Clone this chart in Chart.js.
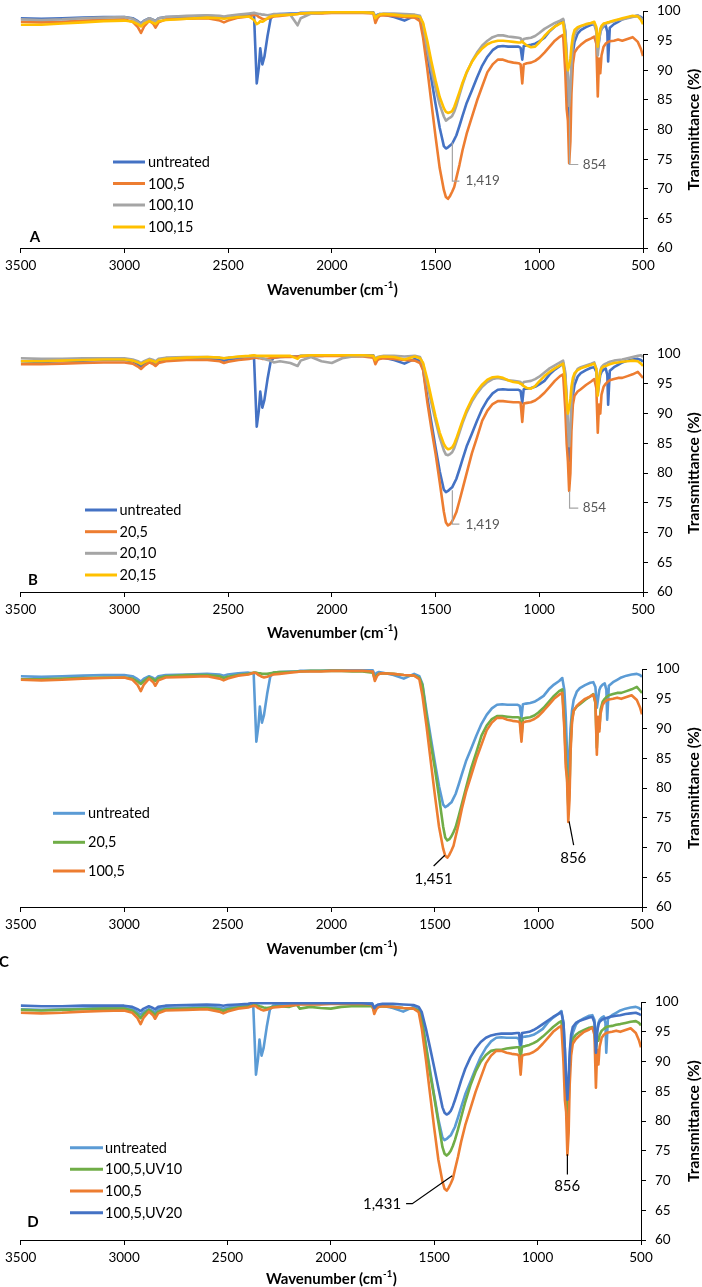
<!DOCTYPE html>
<html><head><meta charset="utf-8">
<script src="https://cdn.jsdelivr.net/npm/chart.js@4.4.1/dist/chart.umd.min.js"></script>
<style>
html,body{margin:0;padding:0;background:#fff;width:702px;height:1287px;overflow:hidden;position:relative}
canvas{position:absolute;left:0}
</style></head><body>
<canvas id="cA"></canvas><canvas id="cB"></canvas><canvas id="cC"></canvas><canvas id="cD"></canvas>
<script>
// ---- data (wavenumber grid, cm-1) ----
const WAVENUMBERS = [
  3500,3400,3300,3200,3100,3000,2960,2935,2920,2905,2880,2860,2850,2835,2800,
  2700,2600,2540,2520,2500,2450,2400,2375,2362,2352,2345,2335,2325,2310,2295,2280,
  2250,2200,2165,2150,2100,2050,2000,1950,1900,1850,1800,1790,1780,1770,1750,1700,1650,1600,1575,
  1560,1540,1520,1500,1480,1460,1450,1440,1430,1420,1410,1400,1385,1370,1350,1325,1300,1275,1250,1225,1200,
  1175,1150,1125,1100,1090,1082,1075,1060,1040,1020,1000,975,950,925,900,
  885,875,868,862,856,850,845,838,830,815,800,775,750,
  735,725,718,712,706,700,690,680,672,668,660,640,620,600,575,550,525,510,500
];
const UNTREATED = [
  98.8,98.7,98.8,98.9,99.0,99.0,98.8,98.3,97.9,98.4,98.8,98.5,98.3,98.8,99.0,
  99.1,99.2,99.1,98.9,99.1,99.3,99.4,99.3,87.8,90.5,93.7,91.0,92.3,95.8,98.7,99.4,
  99.5,99.6,99.6,99.7,99.7,99.7,99.8,99.8,99.8,99.8,99.8,99.0,99.4,99.5,99.4,99.0,98.4,99.2,98.8,
  97.5,92.8,88.5,84.3,80.3,77.2,76.8,77.0,77.3,77.6,78.3,79.0,80.6,82.3,84.5,86.6,88.8,90.8,92.3,93.4,94.0,
  94.1,94.0,94.0,94.0,93.8,91.8,94.1,94.2,94.3,94.5,94.9,95.5,96.6,97.4,98.0,
  98.5,96.5,92.0,86.0,82.0,86.0,90.0,93.0,94.8,96.2,96.8,97.3,97.7,
  97.8,97.0,93.5,95.0,96.5,97.0,97.4,97.6,96.5,91.5,97.2,97.8,98.2,98.6,98.9,99.1,99.2,99.0,98.7
];
const S100_5 = [
  98.2,98.1,98.2,98.4,98.5,98.6,98.2,97.3,96.3,97.4,98.4,97.8,97.2,98.1,98.6,
  98.7,98.8,98.4,98.1,98.4,98.9,99.1,99.4,99.3,99.0,98.9,98.7,98.6,98.7,98.9,99.1,
  99.2,99.4,99.5,99.6,99.6,99.6,99.7,99.7,99.7,99.7,99.6,98.0,98.8,99.2,99.3,99.2,99.0,98.9,98.3,
  95.5,90.3,84.5,78.8,73.5,69.8,68.6,68.3,68.8,69.5,70.3,71.8,74.0,76.5,79.3,82.1,84.9,87.3,89.7,91.0,91.8,
  91.8,91.5,91.3,91.2,91.0,87.8,91.0,91.2,91.3,91.6,92.1,93.0,94.0,95.0,95.7,
  96.0,90.0,83.5,81.5,74.3,78.0,86.0,91.0,93.0,93.8,94.3,95.0,95.4,
  95.7,94.5,85.6,92.0,89.5,92.5,94.0,94.5,94.7,94.8,94.9,95.0,95.2,95.0,95.3,95.6,94.8,93.6,92.4
];
const S100_10 = [
  98.6,98.5,98.6,98.8,98.9,99.0,98.7,98.2,97.7,98.3,98.8,98.5,98.2,98.8,99.0,
  99.2,99.3,99.2,99.1,99.2,99.4,99.6,99.7,99.6,99.5,99.5,99.4,99.4,99.3,99.4,99.5,
  99.5,99.4,97.6,98.8,99.6,99.7,99.8,99.8,99.8,99.8,99.7,98.9,99.3,99.5,99.6,99.6,99.5,99.4,99.2,
  97.8,93.5,90.0,87.0,84.2,82.2,81.5,81.8,82.0,82.3,83.0,84.0,85.8,87.6,89.6,91.5,93.0,94.2,95.0,95.6,95.9,
  95.9,95.7,95.6,95.5,95.4,94.8,95.3,95.4,95.5,95.8,96.3,97.0,97.5,98.0,98.4,
  98.7,96.8,93.0,89.0,84.0,87.0,91.0,94.5,96.0,97.0,97.4,97.7,98.0,
  97.8,96.5,92.5,95.0,96.3,97.0,97.6,97.8,98.0,98.0,98.1,98.3,98.5,98.6,98.8,99.0,99.3,98.8,98.5
];
const S100_15 = [
  97.7,97.7,97.9,98.1,98.3,98.4,98.2,97.8,97.4,97.9,98.3,98.0,97.8,98.3,98.5,
  98.7,98.9,98.8,98.7,98.8,99.0,99.1,98.5,97.8,98.0,98.3,98.2,98.4,98.8,99.1,99.2,
  99.3,99.4,99.5,99.6,99.7,99.7,99.8,99.8,99.8,99.8,99.7,98.8,99.2,99.4,99.5,99.4,99.2,99.2,99.0,
  98.0,95.0,91.5,88.3,85.5,83.6,83.0,82.8,82.9,83.1,83.8,84.8,86.3,87.9,89.7,91.4,92.7,93.7,94.4,94.8,95.0,
  95.0,94.9,94.8,94.7,94.7,94.9,94.6,94.2,93.9,94.0,94.7,95.8,96.7,97.4,97.9,
  98.1,95.0,91.5,90.0,90.8,92.0,94.0,95.8,96.8,97.3,97.5,97.8,98.0,
  98.2,97.3,94.0,95.8,97.0,97.5,97.9,98.0,98.1,98.1,98.2,98.4,98.6,98.8,99.0,99.2,99.1,98.5,97.8
];
const S20_5 = [
  98.3,98.3,98.4,98.5,98.6,98.6,98.4,97.9,97.5,98.0,98.6,98.3,98.0,98.5,98.8,
  99.0,99.0,98.8,98.5,98.7,99.0,99.2,99.4,99.4,99.3,99.3,99.2,99.2,99.2,99.3,99.4,
  99.5,99.5,99.6,99.6,99.7,99.7,99.7,99.7,99.6,99.6,99.4,98.3,99.0,99.2,99.3,99.2,99.0,98.9,98.5,
  97.3,92.0,87.5,83.3,78.5,73.5,71.7,71.2,71.4,71.9,72.6,73.4,75.3,77.3,80.0,83.3,86.0,88.8,90.5,91.6,92.1,
  92.1,92.0,91.9,91.9,91.8,88.6,91.7,91.8,91.9,92.2,92.7,93.5,94.5,95.5,96.3,
  96.6,91.0,85.0,82.0,77.0,80.0,87.0,91.5,93.0,93.7,94.1,94.8,95.4,
  95.8,94.3,86.8,91.5,90.0,93.2,94.5,95.0,95.3,95.4,95.6,95.8,96.0,96.0,96.3,96.6,97.0,96.4,96.0
];
const S20_10 = [
  99.3,99.2,99.2,99.3,99.3,99.3,99.1,98.8,98.5,98.8,99.2,99.0,98.8,99.2,99.4,
  99.5,99.5,99.4,99.3,99.4,99.5,99.6,99.7,99.6,99.5,99.4,99.3,99.2,99.0,98.9,98.6,
  98.8,98.5,98.0,98.9,99.5,98.8,98.5,99.3,99.6,99.7,99.7,99.2,99.5,99.6,99.7,99.7,99.6,99.7,99.5,
  98.3,95.0,91.8,88.8,86.0,83.8,83.1,83.0,83.2,83.5,84.2,85.2,86.8,88.4,90.2,92.0,93.4,94.5,95.3,95.8,96.0,
  95.8,95.6,95.5,95.4,95.3,94.8,95.3,95.4,95.5,95.8,96.2,96.9,97.6,98.1,98.6,
  98.9,97.0,93.0,88.0,84.5,88.0,92.0,95.0,96.5,97.5,97.8,98.1,98.4,
  98.6,97.5,93.5,96.0,97.2,97.8,98.2,98.4,98.5,98.6,98.7,98.9,99.0,99.1,99.3,99.5,99.7,99.8,99.5
];
const S20_15 = [
  98.8,98.8,98.9,99.0,99.1,99.1,98.9,98.6,98.3,98.6,99.0,98.8,98.6,99.0,99.2,
  99.4,99.5,99.4,99.3,99.4,99.6,99.7,99.8,99.7,99.7,99.7,99.7,99.7,99.7,99.7,99.7,
  99.7,99.7,99.2,99.7,99.8,99.8,99.8,99.8,99.8,99.8,99.7,99.0,99.4,99.5,99.6,99.5,99.1,99.6,99.3,
  98.5,95.8,92.6,89.5,86.8,84.9,84.3,84.0,84.1,84.3,84.9,85.8,87.3,88.8,90.6,92.4,93.8,94.9,95.7,96.1,96.2,
  96.0,95.6,95.3,95.2,95.0,94.9,94.6,94.3,94.2,94.6,95.4,96.3,97.0,97.6,98.1,
  98.4,95.5,92.0,90.0,91.0,92.5,94.5,96.0,96.8,97.3,97.6,97.9,98.2,
  98.4,97.5,93.0,95.5,97.0,97.6,97.9,98.0,98.1,98.2,98.3,98.5,98.6,98.7,98.8,98.9,98.8,98.4,98.0
];
const S100_5_UV10 = [
  98.7,98.6,98.7,98.8,98.9,98.9,98.6,97.9,97.3,98.0,98.7,98.2,97.8,98.4,98.8,
  98.9,99.0,98.8,98.5,98.8,99.1,99.3,99.5,99.5,99.4,99.3,99.2,99.1,99.0,99.1,99.2,
  99.3,99.2,99.6,98.9,99.2,99.0,98.9,99.2,99.3,99.3,99.3,98.4,99.0,99.2,99.3,99.2,99.0,98.9,98.6,
  97.0,92.5,88.0,84.0,79.8,75.6,74.5,74.2,74.5,75.0,75.8,76.8,78.6,80.6,83.2,86.0,88.3,90.0,91.1,91.8,92.0,
  92.0,92.2,92.3,92.4,92.4,90.5,92.5,92.6,92.8,93.1,93.5,94.2,95.0,95.8,96.5,
  96.8,93.0,87.0,83.0,79.5,83.0,89.0,92.5,93.8,94.5,94.9,95.3,95.7,
  95.8,95.0,92.0,94.0,93.5,94.5,95.2,95.5,95.7,95.8,95.9,96.0,96.2,96.3,96.5,96.7,96.8,96.5,96.1
];
const S100_5_UV20 = [
  99.4,99.3,99.3,99.4,99.4,99.4,99.2,98.8,98.5,98.9,99.3,99.0,98.8,99.2,99.4,
  99.5,99.6,99.5,99.4,99.5,99.6,99.7,99.9,99.9,99.8,99.8,99.8,99.8,99.8,99.8,99.8,
  99.8,99.8,99.8,99.8,99.8,99.8,99.8,99.8,99.8,99.8,99.7,99.0,99.4,99.6,99.7,99.7,99.6,99.5,99.2,
  98.3,95.5,92.3,89.0,85.6,82.3,81.4,81.1,81.3,81.7,82.5,83.5,85.1,86.8,88.8,90.7,92.2,93.3,94.0,94.4,94.6,
  94.7,94.7,94.7,94.8,94.8,92.8,94.8,94.9,95.0,95.3,95.7,96.3,96.9,97.5,98.0,
  98.3,96.5,92.0,87.0,83.6,87.0,91.5,94.5,95.8,96.5,96.8,97.1,97.4,
  97.5,96.5,91.5,95.0,96.2,96.7,97.0,97.2,97.3,97.3,97.4,97.6,97.7,97.8,98.0,98.1,98.2,98.0,97.8
];
const LABELS_A = ['untreated', '100,5', '100,10', '100,15'];
const LABELS_B = ['untreated', '20,5', '20,10', '20,15'];
const LABELS_C = ['untreated', '20,5', '100,5'];
const LABELS_D = ['untreated', '100,5,UV10', '100,5', '100,5,UV20'];
const X_RANGE = [500, 3500];
const Y_RANGE = [60, 100];
const X_STEP = 500;
const Y_STEP = 5;

// ---- colours ----
const BLUE = '#4472C4', ORANGE = '#ED7D31', GRAY = '#A5A5A5', YELLOW = '#FFC000';
const LBLUE = '#5B9BD5', GREEN = '#70AD47';

const FONT = 'Lato, "Open Sans", sans-serif';

const PANELS = [
  { id:'cA', top:6, bottom:248, left:19, right:643, xTitleDy:42, padBottom:0,
    labels: LABELS_A, values:[UNTREATED, S100_5, S100_10, S100_15], colors:[BLUE, ORANGE, GRAY, YELLOW],
    legend:{x1:113, x2:145, tx:148, rows:[162, 183.5, 205, 227]},
    letter:{t:'A', x:35, y:237},
    notes:[
      {path:[[1419,77.8],[1419,71.3],[1385,71.3]], text:'1,419', at:[1356,71.3], align:'left', color:GRAY, textColor:'#595959', size:13.5},
      {path:[[854,84],[854,74.1],[812,74.1]], text:'854', at:[791,74.1], align:'left', color:GRAY, textColor:'#595959', size:13.5}
    ] },
  { id:'cB', top:349, bottom:592, left:19, right:643, xTitleDy:41, padBottom:0,
    labels: LABELS_B, values:[UNTREATED, S20_5, S20_10, S20_15], colors:[BLUE, ORANGE, GRAY, YELLOW],
    legend:{x1:85, x2:117, tx:119.5, rows:[510, 531.7, 553.3, 575]},
    letter:{t:'B', x:33, y:580},
    notes:[
      {path:[[1419,77.1],[1419,71.4],[1385,71.4]], text:'1,419', at:[1356,71.4], align:'left', color:GRAY, textColor:'#595959', size:13.5},
      {path:[[854,77],[854,74.1],[812,74.1]], text:'854', at:[791,74.1], align:'left', color:GRAY, textColor:'#595959', size:13.5}
    ] },
  { id:'cC', top:664, bottom:907, left:18, right:642, xTitleDy:42, padBottom:14,
    labels: LABELS_C, values:[UNTREATED, S20_5, S100_5], colors:[LBLUE, GREEN, ORANGE],
    legend:{x1:53, x2:85, tx:88, rows:[813.3, 842.3, 871]},
    letter:{t:'C', x:4, y:962},
    notes:[
      {path:[[1506,66.9],[1452,68.7]], text:'1,451', at:[1506,64.7], align:'center', color:'#000', textColor:'#000', size:15},
      {path:[[852,74.4],[830,70.4]], text:'856', at:[832,68.2], align:'center', color:'#000', textColor:'#000', size:15}
    ] },
  { id:'cD', top:997, bottom:1240, left:17, right:641, xTitleDy:39, padBottom:0,
    labels: LABELS_D, values:[UNTREATED, S100_5_UV10, S100_5, S100_5_UV20], colors:[LBLUE, GREEN, ORANGE, BLUE],
    legend:{x1:70, x2:103, tx:105, rows:[1147.7, 1169.3, 1191, 1212.7]},
    letter:{t:'D', x:33, y:1222},
    notes:[
      {path:[[1636,66.1],[1606,66.1],[1413,70.8]], text:'1,431', at:[1752,66.1], align:'center', color:'#000', textColor:'#000', size:15},
      {path:[[856,74.4],[856,71.0]], text:'856', at:[857,69.0], align:'center', color:'#000', textColor:'#000', size:15}
    ] }
];

const PAD_T = 12, XAX_H = 50;

const decor = {
  id: 'decor',
  afterDraw(chart) {
    const p = chart.options.plugins.decor.panel;
    const off = p.top - PAD_T;
    const {ctx, chartArea: ca, scales} = chart;
    const xs = scales.x, ys = scales.y;
    // y title
    ctx.save();
    ctx.translate(694, (ca.top + ca.bottom) / 2);
    ctx.rotate(-Math.PI / 2);
    ctx.font = 'bold 15.5px ' + FONT;
    ctx.fillStyle = '#000'; ctx.textAlign = 'center'; ctx.textBaseline = 'middle';
    ctx.fillText('Transmittance (%)', 0, 0);
    ctx.restore();
    // x title with superscript
    ctx.save();
    const mainF = 'bold 15px ' + FONT, supF = 'bold 9.5px ' + FONT;
    const t1 = 'Wavenumber (cm', t2 = '-1', t3 = ')';
    ctx.font = mainF; const w1 = ctx.measureText(t1).width, w3 = ctx.measureText(t3).width;
    ctx.font = supF; const w2 = ctx.measureText(t2).width;
    const tot = w1 + w2 + w3;
    let sx = (ca.left + ca.right) / 2 - tot / 2;
    const ty = ca.bottom + p.xTitleDy;
    ctx.fillStyle = '#000'; ctx.textBaseline = 'middle'; ctx.textAlign = 'left';
    ctx.font = mainF; ctx.fillText(t1, sx, ty);
    ctx.font = supF; ctx.fillText(t2, sx + w1 + 0.5, ty - 5);
    ctx.font = mainF; ctx.fillText(t3, sx + w1 + w2 + 1, ty);
    ctx.restore();
    // legend
    ctx.save();
    chart.data.datasets.forEach((ds, i) => {
      const yy = p.legend.rows[i] - off;
      ctx.strokeStyle = ds.borderColor; ctx.lineWidth = 3; ctx.lineCap = 'butt';
      ctx.beginPath(); ctx.moveTo(p.legend.x1, yy); ctx.lineTo(p.legend.x2, yy); ctx.stroke();
      ctx.font = '14.5px ' + FONT; ctx.fillStyle = '#000'; ctx.textBaseline = 'middle'; ctx.textAlign = 'left';
      ctx.fillText(ds.label, p.legend.tx, yy + 0.5);
    });
    ctx.restore();
    // annotations
    ctx.save();
    p.notes.forEach(n => {
      ctx.strokeStyle = n.color; ctx.lineWidth = 1.2;
      ctx.beginPath();
      n.path.forEach(([wx, wy], k) => {
        const px = xs.getPixelForValue(wx), py = ys.getPixelForValue(wy);
        if (k) ctx.lineTo(px, py); else ctx.moveTo(px, py);
      });
      ctx.stroke();
      ctx.font = n.size + 'px ' + FONT; ctx.fillStyle = n.textColor;
      ctx.textAlign = n.align; ctx.textBaseline = 'middle';
      ctx.fillText(n.text, xs.getPixelForValue(n.at[0]), ys.getPixelForValue(n.at[1]));
    });
    ctx.restore();
    // panel letter
    ctx.save();
    ctx.font = 'bold 15px ' + FONT; ctx.fillStyle = '#000';
    ctx.textAlign = 'center'; ctx.textBaseline = 'middle';
    ctx.fillText(p.letter.t, p.letter.x, p.letter.y - off);
    ctx.restore();
  }
};

PANELS.forEach(p => {
  const cv = document.getElementById(p.id);
  const h = PAD_T + (p.bottom - p.top) + XAX_H + p.padBottom;
  cv.width = 702; cv.height = h;
  cv.style.width = '702px'; cv.style.height = h + 'px';
  cv.style.top = (p.top - PAD_T) + 'px';
  const n = p.labels.length;
  const datasets = p.labels.map((lab, i) => ({
    label: lab,
    data: WAVENUMBERS.map((w, k) => ({x: w, y: p.values[i][k]})),
    borderColor: p.colors[i],
    borderWidth: 2.6,
    pointRadius: 0,
    tension: 0,
    fill: false,
    borderJoinStyle: 'round',
    order: n - i
  }));
  new Chart(cv, {
    type: 'line',
    data: { datasets },
    plugins: [decor],
    options: {
      responsive: false,
      devicePixelRatio: 1,
      animation: false,
      events: [],
      layout: { padding: { top: PAD_T, left: p.left, right: 0, bottom: p.padBottom } },
      plugins: {
        legend: { display: false },
        tooltip: { enabled: false },
        title: { display: false },
        decor: { panel: p }
      },
      scales: {
        x: {
          type: 'linear', position: 'bottom', reverse: true,
          min: X_RANGE[0], max: X_RANGE[1],
          afterFit(s) { s.height = XAX_H; },
          ticks: { stepSize: X_STEP, color: '#000', padding: 5, maxRotation: 0, autoSkip: false,
                   font: { family: FONT, size: 13.5 }, callback: v => String(v) },
          grid: { drawOnChartArea: false, drawTicks: true, tickLength: 5, color: '#000', lineWidth: 1 },
          border: { display: true, color: '#000', width: 1 },
          title: { display: false }
        },
        y: {
          type: 'linear', position: 'right',
          min: Y_RANGE[0], max: Y_RANGE[1],
          afterFit(s) { s.width = 702 - p.right; },
          ticks: { stepSize: Y_STEP, color: '#000', padding: 9,
                   font: { family: FONT, size: 13.5 }, callback: v => String(v) },
          grid: { drawOnChartArea: false, drawTicks: true, tickLength: 5, color: '#000', lineWidth: 1 },
          border: { display: true, color: '#000', width: 1 },
          title: { display: false }
        }
      }
    }
  });
});
</script></body></html>
